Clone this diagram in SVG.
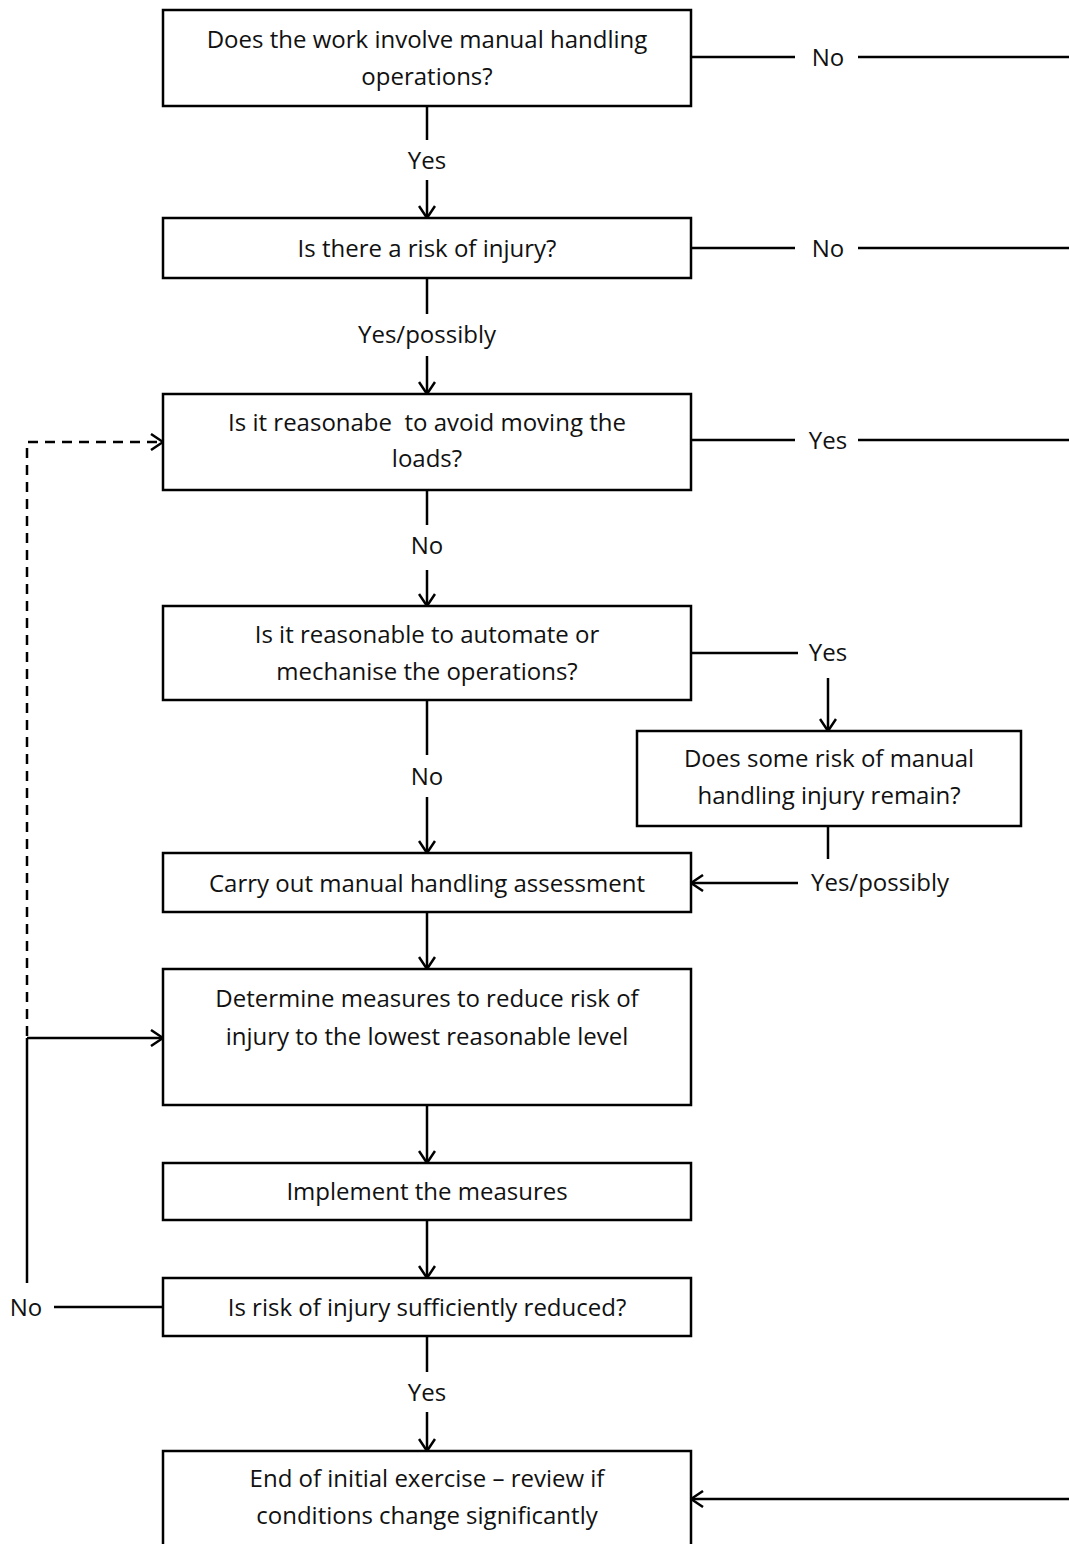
<svg xmlns="http://www.w3.org/2000/svg" width="1069" height="1544" viewBox="0 0 1069 1544">
  <defs>
    <style>
      .box { fill: #ffffff; stroke: #000000; stroke-width: 2.5; }
      .ln { fill: none; stroke: #000000; stroke-width: 2.5; }
      .dash { fill: none; stroke: #000000; stroke-width: 2.5; stroke-dasharray: 10 7; }
      text { font-family: "Open Sans", "Liberation Sans", sans-serif; font-size: 24px; fill: #111111; text-anchor: middle; white-space: pre; }
    </style>
    <marker id="arr" viewBox="0 0 14 18" refX="13" refY="9" markerWidth="14" markerHeight="18" markerUnits="userSpaceOnUse" orient="auto">
      <path d="M1,1 L13,9 L1,17" fill="none" stroke="#000000" stroke-width="2.5"/>
    </marker>
  </defs>

  <rect width="1069" height="1544" fill="#ffffff"/>

  <!-- connectors and their labels -->
  <g id="connectors">
    <!-- manual handling? -->
    <line class="ln" x1="691" y1="57" x2="795" y2="57"/>
    <text x="828" y="66">No</text>
    <line class="ln" x1="858" y1="57" x2="1069" y2="57"/>
    <line class="ln" x1="427" y1="106" x2="427" y2="140"/>
    <text x="427" y="169">Yes</text>
    <line class="ln" x1="427" y1="180" x2="427" y2="218" marker-end="url(#arr)"/>

    <!-- risk of injury? -->
    <line class="ln" x1="691" y1="248" x2="795" y2="248"/>
    <text x="828" y="257">No</text>
    <line class="ln" x1="858" y1="248" x2="1069" y2="248"/>
    <line class="ln" x1="427" y1="278" x2="427" y2="314"/>
    <text x="427" y="343">Yes/possibly</text>
    <line class="ln" x1="427" y1="356" x2="427" y2="394" marker-end="url(#arr)"/>

    <!-- avoid moving loads? -->
    <line class="ln" x1="691" y1="440" x2="795" y2="440"/>
    <text x="828" y="449">Yes</text>
    <line class="ln" x1="858" y1="440" x2="1069" y2="440"/>
    <line class="ln" x1="427" y1="490" x2="427" y2="525"/>
    <text x="427" y="554">No</text>
    <line class="ln" x1="427" y1="570" x2="427" y2="606" marker-end="url(#arr)"/>

    <!-- automate or mechanise? -->
    <line class="ln" x1="691" y1="653" x2="798" y2="653"/>
    <text x="828" y="661">Yes</text>
    <line class="ln" x1="828" y1="678" x2="828" y2="731" marker-end="url(#arr)"/>
    <line class="ln" x1="427" y1="700" x2="427" y2="755"/>
    <text x="427" y="785">No</text>
    <line class="ln" x1="427" y1="797" x2="427" y2="853" marker-end="url(#arr)"/>

    <!-- remaining risk -->
    <line class="ln" x1="828" y1="826" x2="828" y2="859"/>
    <text x="880" y="891">Yes/possibly</text>
    <line class="ln" x1="798" y1="883" x2="691" y2="883" marker-end="url(#arr)"/>

    <!-- main sequence -->
    <line class="ln" x1="427" y1="912" x2="427" y2="969" marker-end="url(#arr)"/>
    <line class="ln" x1="427" y1="1105" x2="427" y2="1163" marker-end="url(#arr)"/>
    <line class="ln" x1="427" y1="1220" x2="427" y2="1278" marker-end="url(#arr)"/>

    <!-- sufficiently reduced? -->
    <line class="ln" x1="163" y1="1307" x2="54" y2="1307"/>
    <text x="26" y="1316">No</text>
    <line class="ln" x1="27" y1="1283" x2="27" y2="1038"/>
    <line class="ln" x1="27" y1="1038" x2="163" y2="1038" marker-end="url(#arr)"/>
    <polyline class="dash" points="27,1036 27,442 163,442" marker-end="url(#arr)"/>
    <line class="ln" x1="427" y1="1336" x2="427" y2="1372"/>
    <text x="427" y="1401">Yes</text>
    <line class="ln" x1="427" y1="1412" x2="427" y2="1451" marker-end="url(#arr)"/>

    <!-- return to end -->
    <line class="ln" x1="1069" y1="1499" x2="691" y2="1499" marker-end="url(#arr)"/>
  </g>

  <!-- nodes -->
  <g id="n-manual-handling">
    <rect class="box" x="163" y="10" width="528" height="96"/>
    <text x="427" y="48">Does the work involve manual handling</text>
    <text x="427" y="85">operations?</text>
  </g>
  <g id="n-risk-injury">
    <rect class="box" x="163" y="218" width="528" height="60"/>
    <text x="427" y="257">Is there a risk of injury?</text>
  </g>
  <g id="n-avoid-moving">
    <rect class="box" x="163" y="394" width="528" height="96"/>
    <text x="427" y="431">Is it reasonabe  to avoid moving the</text>
    <text x="427" y="467">loads?</text>
  </g>
  <g id="n-automate">
    <rect class="box" x="163" y="606" width="528" height="94"/>
    <text x="427" y="643">Is it reasonable to automate or</text>
    <text x="427" y="680">mechanise the operations?</text>
  </g>
  <g id="n-remaining-risk">
    <rect class="box" x="637" y="731" width="384" height="95"/>
    <text x="829" y="767">Does some risk of manual</text>
    <text x="829" y="804">handling injury remain?</text>
  </g>
  <g id="n-assessment">
    <rect class="box" x="163" y="853" width="528" height="59"/>
    <text x="427" y="892">Carry out manual handling assessment</text>
  </g>
  <g id="n-measures">
    <rect class="box" x="163" y="969" width="528" height="136"/>
    <text x="427" y="1007">Determine measures to reduce risk of</text>
    <text x="427" y="1045">injury to the lowest reasonable level</text>
  </g>
  <g id="n-implement">
    <rect class="box" x="163" y="1163" width="528" height="57"/>
    <text x="427" y="1200">Implement the measures</text>
  </g>
  <g id="n-reduced">
    <rect class="box" x="163" y="1278" width="528" height="58"/>
    <text x="427" y="1316">Is risk of injury sufficiently reduced?</text>
  </g>
  <g id="n-end">
    <rect class="box" x="163" y="1451" width="528" height="110"/>
    <text x="427" y="1487">End of initial exercise – review if</text>
    <text x="427" y="1524">conditions change significantly</text>
  </g>
</svg>
